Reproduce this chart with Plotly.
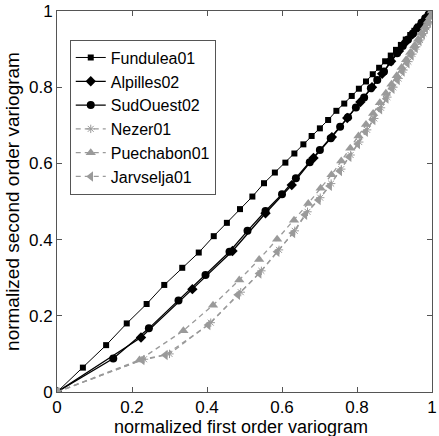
import plotly.graph_objects as go

# ---- data ----
fundulea_x = [0, 0.069, 0.131, 0.186, 0.239, 0.286, 0.334, 0.378, 0.418, 0.453, 0.488, 0.521, 0.552, 0.581,
              0.609, 0.633, 0.657, 0.679, 0.701, 0.723, 0.745, 0.766, 0.786, 0.805, 0.824, 0.842, 0.859, 0.875,
              0.890, 0.904, 0.917, 0.930, 0.942, 0.953, 0.963, 0.972, 0.981, 0.989, 0.995, 1.0]
fundulea_y = [0, 0.064, 0.123, 0.180, 0.231, 0.281, 0.326, 0.366, 0.409, 0.444, 0.480, 0.513, 0.548, 0.576,
              0.602, 0.626, 0.650, 0.672, 0.692, 0.714, 0.738, 0.757, 0.777, 0.796, 0.815, 0.834, 0.851, 0.868,
              0.883, 0.898, 0.911, 0.925, 0.937, 0.948, 0.959, 0.969, 0.978, 0.987, 0.994, 1.0]

alpilles_x = [0, 0.224, 0.361, 0.468, 0.556, 0.626, 0.684, 0.733, 0.774, 0.809, 0.840, 0.867, 0.891, 0.912,
              0.931, 0.948, 0.963, 0.976, 0.988, 1.0]
alpilles_y = [0, 0.143, 0.270, 0.370, 0.469, 0.543, 0.614, 0.669, 0.719, 0.761, 0.800, 0.835, 0.868, 0.895,
              0.920, 0.939, 0.957, 0.972, 0.986, 1.0]

sudouest_x = [0, 0.150, 0.245, 0.324, 0.396, 0.460, 0.508, 0.556, 0.600, 0.637, 0.674, 0.701, 0.730, 0.755,
              0.776, 0.797, 0.819, 0.837, 0.854, 0.872, 0.889, 0.907, 0.922, 0.936, 0.949, 0.961, 0.972, 0.982,
              0.991, 1.0]
sudouest_y = [0, 0.088, 0.167, 0.240, 0.307, 0.368, 0.423, 0.475, 0.519, 0.561, 0.603, 0.635, 0.666, 0.696,
              0.721, 0.747, 0.773, 0.797, 0.819, 0.841, 0.867, 0.889, 0.908, 0.925, 0.941, 0.956, 0.969, 0.981,
              0.991, 1.0]

nezer_x = [0, 0.232, 0.300, 0.410, 0.490, 0.545, 0.592, 0.634, 0.668, 0.702, 0.731, 0.758, 0.783, 0.806,
           0.827, 0.846, 0.864, 0.881, 0.897, 0.911, 0.924, 0.937, 0.948, 0.958, 0.968, 0.977, 0.985, 0.992, 1.0]
nezer_y = [0, 0.086, 0.100, 0.182, 0.262, 0.318, 0.373, 0.423, 0.473, 0.510, 0.547, 0.585, 0.622, 0.656,
           0.688, 0.718, 0.746, 0.774, 0.800, 0.823, 0.845, 0.867, 0.887, 0.906, 0.924, 0.941, 0.957, 0.972, 1.0]

puechabon_x = [0, 0.220, 0.337, 0.416, 0.486, 0.539, 0.587, 0.632, 0.670, 0.703, 0.732, 0.758, 0.782, 0.804,
               0.824, 0.843, 0.861, 0.877, 0.892, 0.906, 0.919, 0.931, 0.942, 0.953, 0.963, 0.972, 0.981, 0.989,
               0.995, 1.0]
puechabon_y = [0, 0.084, 0.161, 0.228, 0.294, 0.348, 0.401, 0.451, 0.495, 0.535, 0.570, 0.606, 0.640, 0.672,
               0.702, 0.731, 0.759, 0.784, 0.808, 0.830, 0.852, 0.872, 0.891, 0.909, 0.926, 0.942, 0.958, 0.973,
               0.985, 1.0]

jarvselja_x = [0, 0.227, 0.289, 0.403, 0.482, 0.539, 0.587, 0.629, 0.661, 0.697, 0.727, 0.754, 0.779, 0.802,
               0.823, 0.843, 0.861, 0.878, 0.894, 0.908, 0.921, 0.934, 0.945, 0.956, 0.966, 0.975, 0.983, 0.991, 1.0]
jarvselja_y = [0, 0.084, 0.097, 0.176, 0.255, 0.311, 0.368, 0.417, 0.465, 0.504, 0.541, 0.580, 0.617, 0.651,
               0.683, 0.714, 0.742, 0.770, 0.796, 0.819, 0.841, 0.863, 0.883, 0.903, 0.921, 0.938, 0.954, 0.970, 1.0]

tick_vals = [0, 0.2, 0.4, 0.6, 0.8, 1]
tick_text = ["0", "0.2", "0.4", "0.6", "0.8", "1"]

x_title = "normalized first order variogram"
y_title = "normalized second order variogram"

GRAY = "#9a9a9a"
FONT = "Liberation Sans, Arial, sans-serif"

fig = go.Figure()

fig.add_trace(go.Scatter(x=fundulea_x, y=fundulea_y, name="Fundulea01", mode="lines+markers",
                         line=dict(color="black", width=1),
                         marker=dict(symbol="square", size=6, color="black")))
fig.add_trace(go.Scatter(x=alpilles_x, y=alpilles_y, name="Alpilles02", mode="lines+markers",
                         line=dict(color="black", width=1.3),
                         marker=dict(symbol="diamond", size=8, color="black")))
fig.add_trace(go.Scatter(x=sudouest_x, y=sudouest_y, name="SudOuest02", mode="lines+markers",
                         line=dict(color="black", width=1.3),
                         marker=dict(symbol="circle", size=8, color="black")))
fig.add_trace(go.Scatter(x=nezer_x, y=nezer_y, name="Nezer01", mode="lines+markers",
                         line=dict(color=GRAY, width=1.3, dash="5px,4px"),
                         marker=dict(symbol="asterisk-open", size=7, color=GRAY,
                                     line=dict(color=GRAY, width=1))))
fig.add_trace(go.Scatter(x=puechabon_x, y=puechabon_y, name="Puechabon01", mode="lines+markers",
                         line=dict(color=GRAY, width=1.3, dash="5px,4px"),
                         marker=dict(symbol="triangle-up", size=9, color=GRAY)))
fig.add_trace(go.Scatter(x=jarvselja_x, y=jarvselja_y, name="Jarvselja01", mode="lines+markers",
                         line=dict(color=GRAY, width=1.3, dash="5px,4px"),
                         marker=dict(symbol="triangle-left", size=9, color=GRAY)))

axis_common = dict(
    range=[0, 1], tickvals=tick_vals, ticktext=tick_text,
    ticks="inside", ticklen=5, tickcolor="#555", tickwidth=1,
    showline=True, linecolor="#555", linewidth=1, mirror="ticks",
    showgrid=False, zeroline=False, ticklabeloverflow="allow",
    tickfont=dict(family=FONT, size=17, color="black"),
)

fig.update_layout(
    width=439, height=436,
    margin=dict(l=57, r=2, t=11, b=44),
    paper_bgcolor="white", plot_bgcolor="white",
    font=dict(family=FONT, color="black"),
    showlegend=True,
    legend=dict(x=0.034, y=0.925, xanchor="left", yanchor="top",
                bgcolor="white", bordercolor="#555", borderwidth=1,
                font=dict(family=FONT, size=16, color="black"),
                itemwidth=30, tracegroupgap=0),
    xaxis=dict(**axis_common),
    yaxis=dict(**axis_common,
               title=dict(text=y_title, standoff=4,
                          font=dict(family=FONT, size=19, color="black"))),
    annotations=[dict(text=x_title, xref="paper", yref="paper", x=0.49, y=-0.092,
                      xanchor="center", yanchor="middle", showarrow=False,
                      font=dict(family=FONT, size=18, color="black"))],
)

fig.write_html("out.html", config={"displayModeBar": False},
               post_script="document.body.style.margin='0';document.body.style.overflow='hidden';")
